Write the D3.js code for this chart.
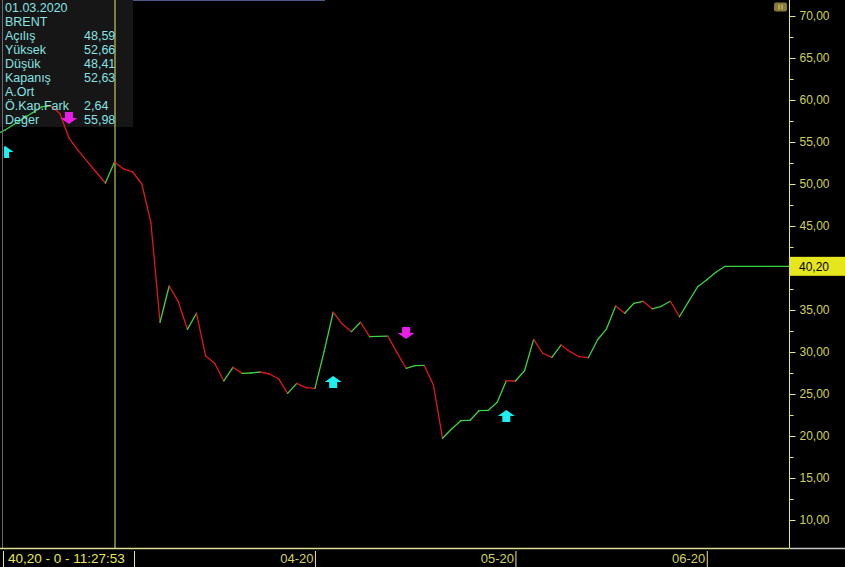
<!DOCTYPE html>
<html>
<head>
<meta charset="utf-8">
<script src="https://cdn.jsdelivr.net/npm/d3@7"></script>
<style>
  html, body { margin: 0; padding: 0; background: #000; }
  svg { display: block; }
  text { font-family: "Liberation Sans", Arial, sans-serif; }
</style>
</head>
<body>
<svg id="chart" width="845" height="567"></svg>
<script>
// ---------------- DATA ----------------
const firstIndex = -13;            // index of first value (0 = 01.03.2020)
const closes = [
  55.9, 56.43, 57.11, 57.80, 58.48, 59.17, 59.30, 58.40, 55.50, 54.00, 52.70, 51.40, 50.12,
  52.63, 51.79, 51.43, 50.00, 45.36, 33.54, 37.86, 35.99, 32.70, 34.61,
  29.52, 28.65, 26.55, 28.18, 27.46, 27.50, 27.62, 27.38, 26.82, 25.08,
  26.27, 25.75, 25.68, 30.04, 34.73, 33.33, 32.42, 33.54, 31.82, 31.85,
  31.88, 29.96, 28.06, 28.37, 28.40, 26.07, 19.73, 20.83, 21.82, 21.85,
  23.01, 23.04, 24.01, 26.58, 26.55, 27.77, 31.51, 29.85, 29.37, 30.83,
  30.04, 29.44, 29.32, 31.43, 32.76, 35.48, 34.61, 35.80, 36.04, 35.14,
  35.44, 36.04, 34.20, 35.99, 37.77, 38.60, 39.49, 40.20
];
const lastPrice = 40.20;
const yTickValues = [10, 15, 20, 25, 30, 35, 40, 45, 50, 55, 60, 65, 70];
const yMinorTicks = [12.5, 17.5, 22.5, 27.5, 32.5, 37.5, 42.5, 47.5, 52.5, 57.5, 62.5, 67.5];
const monthIndex = [22, 44, 65];
const monthLabels = ["04-20", "05-20", "06-20"];
// signals: type, index, price at arrow tip
const signalTypes = ["up", "down", "up", "down", "up"];
const signalIndex = [-12, -5, 24, 32, 43];
const signalPrice = [54.52, 57.14, 27.14, 31.55, 23.10];
const cursorIndex = 0;
const infoLabels = ["01.03.2020", "BRENT", "Açılış", "Yüksek", "Düşük", "Kapanış", "A.Ort", "Ö.Kap.Fark", "Değer"];
const infoValues = ["", "", "48,59", "52,66", "48,41", "52,63", "", "2,64", "55,98"];
const statusText = "40,20 - 0 - 11:27:53";

// ---------------- LAYOUT ----------------
const W = 845, H = 567;
const axisX = 789.5, plotBottom = 548;
const svg = d3.select("#chart");

const x = d3.scaleLinear().domain([0, 67]).range([114.5, 725]);
const y = d3.scaleLinear().domain([10, 70]).range([520, 16]);

const GREEN = "#3fd23f", RED = "#e01818", AXIS = "#e6e68c", LABEL = "#d0d05c", INFO = "#88e2e2";

svg.append("rect").attr("width", W).attr("height", H).attr("fill", "#000");

// clip for plot
svg.append("clipPath").attr("id", "plotClip")
  .append("rect").attr("x", 0).attr("y", 0).attr("width", axisX).attr("height", plotBottom);
svg.append("clipPath").attr("id", "sigClip")
  .append("rect").attr("x", 4).attr("y", 0).attr("width", axisX - 4).attr("height", plotBottom);

// info box background
svg.append("rect").attr("x", 0).attr("y", 0).attr("width", 133).attr("height", 127)
  .attr("fill", "#161616");

// top thin bar
svg.append("line").attr("x1", 133).attr("x2", 325).attr("y1", 0.5).attr("y2", 0.5)
  .attr("stroke", "#4d5b8c").attr("stroke-width", 1);

// cursor line
svg.append("line").attr("x1", x(cursorIndex) + 0.5).attr("x2", x(cursorIndex) + 0.5)
  .attr("y1", 0).attr("y2", plotBottom).attr("stroke", "#e8e870").attr("stroke-width", 1);

// price line segments
const pts = closes.map((v, i) => ({ i: firstIndex + i, v }));
const seg = d3.line().x(d => x(d.i)).y(d => y(d.v));
const lineG = svg.append("g").attr("clip-path", "url(#plotClip)");
for (let k = 1; k < pts.length; k++) {
  const a = pts[k - 1], b = pts[k];
  lineG.append("path").attr("d", seg([a, b]))
    .attr("fill", "none")
    .attr("stroke", b.v >= a.v ? GREEN : RED)
    .attr("stroke-width", 1.3)
    .attr("stroke-linecap", "round");
}
// flat projection to axis
lineG.append("line")
  .attr("x1", x(pts[pts.length - 1].i)).attr("x2", axisX)
  .attr("y1", y(lastPrice)).attr("y2", y(lastPrice))
  .attr("stroke", GREEN).attr("stroke-width", 1.3);

// left border
svg.append("line").attr("x1", 2.5).attr("x2", 2.5).attr("y1", 0).attr("y2", plotBottom)
  .attr("stroke", "#6a6a6a").attr("stroke-width", 1);

// signals
const sig = svg.append("g").attr("clip-path", "url(#sigClip)");
signalTypes.forEach((t, k) => {
  const cx = x(signalIndex[k]), ty = y(signalPrice[k]);
  let p;
  if (t === "up") {
    p = `M${cx},${ty} L${cx + 8.5},${ty + 6} L${cx + 4},${ty + 6} L${cx + 4},${ty + 12} L${cx - 4},${ty + 12} L${cx - 4},${ty + 6} L${cx - 8.5},${ty + 6} Z`;
  } else {
    p = `M${cx},${ty} L${cx + 8.5},${ty - 6} L${cx + 4},${ty - 6} L${cx + 4},${ty - 12} L${cx - 4},${ty - 12} L${cx - 4},${ty - 6} L${cx - 8.5},${ty - 6} Z`;
  }
  sig.append("path").attr("d", p).attr("fill", t === "up" ? "#1ef0f0" : "#e81ee8");
});

// info text
const info = svg.append("g").attr("font-size", "12.5px").attr("fill", INFO);
infoLabels.forEach((l, k) => {
  info.append("text").attr("x", 5).attr("y", 12 + k * 14).text(l);
  if (infoValues[k]) info.append("text").attr("x", 84).attr("y", 12 + k * 14).text(infoValues[k]);
});

// right axis
const fmt = v => d3.format(".2f")(v).replace(".", ",");
const yAxis = d3.axisRight(y).tickValues(yTickValues).tickSize(6).tickPadding(4).tickFormat(fmt);
const ya = svg.append("g").attr("transform", `translate(${axisX},0)`).call(yAxis);
ya.select(".domain").remove();
ya.selectAll("line").attr("stroke", AXIS);
ya.selectAll("text").attr("fill", LABEL).attr("font-size", "12px")
  .attr("font-family", "'Liberation Sans', Arial, sans-serif");
const yMinor = d3.axisRight(y).tickValues(yMinorTicks).tickSize(4).tickFormat("");
const ym = svg.append("g").attr("transform", `translate(${axisX},0)`).call(yMinor);
ym.select(".domain").remove();
ym.selectAll("line").attr("stroke", AXIS);
svg.append("line").attr("x1", axisX).attr("x2", axisX).attr("y1", 0).attr("y2", plotBottom)
  .attr("stroke", AXIS).attr("stroke-width", 1);

// last price label
svg.append("rect").attr("x", axisX).attr("y", y(lastPrice) - 9.5).attr("width", W - axisX).attr("height", 19)
  .attr("fill", "#e6e61e");
svg.append("text").attr("x", 799).attr("y", y(lastPrice) + 4.5).attr("font-size", "12px")
  .attr("fill", "#000").text(fmt(lastPrice));

// pause button
svg.append("rect").attr("x", 774).attr("y", 2.5).attr("width", 13).attr("height", 9).attr("rx", 2)
  .attr("fill", "#8a7a38");
svg.append("rect").attr("x", 778.5).attr("y", 4.5).attr("width", 1).attr("height", 5).attr("fill", "#d8cf90");
svg.append("rect").attr("x", 781.5).attr("y", 4.5).attr("width", 1).attr("height", 5).attr("fill", "#d8cf90");

// bottom strip line
svg.append("line").attr("x1", 0).attr("x2", axisX).attr("y1", plotBottom + 0.5).attr("y2", plotBottom + 0.5)
  .attr("stroke", "#dcdc98").attr("stroke-width", 1.5);
svg.append("line").attr("x1", axisX).attr("x2", W).attr("y1", plotBottom + 0.5).attr("y2", plotBottom + 0.5)
  .attr("stroke", "#c8c8c8").attr("stroke-width", 1.5);

// bottom axis
const xAxis = d3.axisBottom(x).tickValues(monthIndex).tickSize(16).tickPadding(0)
  .tickFormat((d, k) => monthLabels[k]);
const xa = svg.append("g").attr("transform", `translate(0,${plotBottom + 3})`).call(xAxis);
xa.select(".domain").remove();
xa.selectAll("line").attr("stroke", AXIS);
xa.selectAll("text").attr("fill", LABEL).attr("font-size", "13px")
  .attr("font-family", "'Liberation Sans', Arial, sans-serif")
  .attr("text-anchor", "end").attr("dx", "-2").attr("y", 0).attr("dy", "12");

// status box
svg.append("line").attr("x1", 3.5).attr("x2", 3.5).attr("y1", plotBottom + 3).attr("y2", H).attr("stroke", AXIS);
svg.append("line").attr("x1", 134.5).attr("x2", 134.5).attr("y1", plotBottom + 3).attr("y2", H).attr("stroke", AXIS);
svg.append("text").attr("x", 8).attr("y", 563).attr("font-size", "13.5px").attr("fill", "#e8e850").text(statusText);
</script>
</body>
</html>
